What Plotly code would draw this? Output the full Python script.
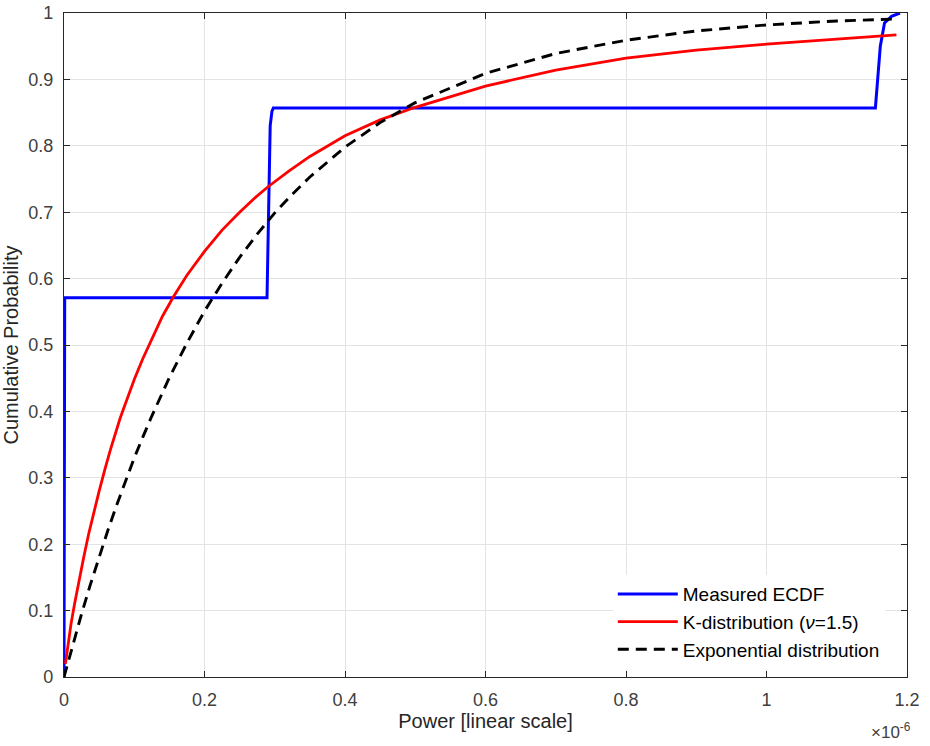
import plotly.graph_objects as go

# ---- data (x in units of 1e-6) ----
ecdf_x = [0.0, 0.0, 0.001, 0.289, 0.2915, 0.2935, 0.296, 0.298, 1.155, 1.162, 1.168, 1.178, 1.19]
ecdf_y = [0.0, 0.3, 0.571, 0.571, 0.70, 0.83, 0.852, 0.857, 0.857, 0.95, 0.985, 0.995, 1.0]

kdist_x = [0.002, 0.005, 0.01, 0.015, 0.02, 0.028, 0.035, 0.042, 0.05, 0.058, 0.066, 0.08,
           0.09, 0.1, 0.112, 0.125, 0.14, 0.156, 0.175, 0.2, 0.225, 0.25, 0.27, 0.29, 0.32,
           0.35, 0.375, 0.4, 0.45, 0.5, 0.6, 0.7, 0.8, 0.9, 1.0, 1.1, 1.185]
kdist_y = [0.02, 0.045, 0.08, 0.11, 0.138, 0.18, 0.215, 0.247, 0.28, 0.312, 0.342, 0.39,
           0.42, 0.448, 0.479, 0.51, 0.543, 0.573, 0.605, 0.641, 0.673, 0.70, 0.72, 0.738,
           0.762, 0.784, 0.80, 0.815, 0.839, 0.858, 0.890, 0.914, 0.932, 0.944, 0.953,
           0.961, 0.967]

exp_x = [0.0, 0.0068, 0.0125, 0.025, 0.0375, 0.05, 0.0625, 0.075, 0.0875, 0.1, 0.1125,
         0.125, 0.15, 0.175, 0.2, 0.225, 0.25, 0.275, 0.3, 0.325, 0.35, 0.4,
         0.45, 0.5, 0.6, 0.7, 0.8, 0.9, 1.0, 1.1, 1.185]
exp_y = [0.0, 0.027, 0.049, 0.095, 0.139, 0.181, 0.221, 0.259, 0.295, 0.33, 0.362,
         0.393, 0.451, 0.503, 0.551, 0.593, 0.632, 0.667, 0.699, 0.727, 0.753, 0.798,
         0.835, 0.865, 0.909, 0.939, 0.959, 0.973, 0.982, 0.988, 0.991]

x_ticks = [0, 0.2, 0.4, 0.6, 0.8, 1.0, 1.2]
x_tick_labels = ["0", "0.2", "0.4", "0.6", "0.8", "1", "1.2"]
y_ticks = [0, 0.1, 0.2, 0.3, 0.4, 0.5, 0.6, 0.7, 0.8, 0.9, 1.0]
y_tick_labels = ["0", "0.1", "0.2", "0.3", "0.4", "0.5", "0.6", "0.7", "0.8", "0.9", "1"]

FONT = "Liberation Sans, Arial, sans-serif"
AX = "#262626"

fig = go.Figure()
fig.add_trace(go.Scatter(x=ecdf_x, y=ecdf_y, mode="lines", name="Measured ECDF",
                         line=dict(color="#0000ff", width=3)))
fig.add_trace(go.Scatter(x=kdist_x, y=kdist_y, mode="lines",
                         name="K-distribution (<i>ν</i>=1.5)",
                         line=dict(color="#ff0000", width=2.8)))
fig.add_trace(go.Scatter(x=exp_x, y=exp_y, mode="lines", name="Exponential distribution",
                         line=dict(color="#000000", width=2.9, dash="11px,7px")))

fig.update_layout(
    width=930, height=746,
    margin=dict(l=64, r=23, t=13, b=69),
    paper_bgcolor="white", plot_bgcolor="white",
    font=dict(family=FONT, color=AX),
    showlegend=True,
    legend=dict(x=0.651, y=0.012, xanchor="left", yanchor="bottom",
                bgcolor="rgba(255,255,255,1)", borderwidth=0,
                font=dict(size=19, color="#000000", family=FONT),
                tracegroupgap=0, itemwidth=60),
    xaxis=dict(range=[0, 1.2], tickvals=x_ticks, ticktext=x_tick_labels,
               showgrid=True, gridcolor="#e3e3e3", gridwidth=1, automargin=False,
               zeroline=False, showline=True, linecolor=AX, linewidth=1.2,
               mirror="ticks", ticks="inside", ticklen=6, tickcolor=AX,
               tickfont=dict(size=18, color="#404040"), ticklabelstandoff=6,
               title=dict(text="Power [linear scale]", font=dict(size=20, color="#262626"),
                          standoff=5)),
    yaxis=dict(range=[0, 1], tickvals=y_ticks, ticktext=y_tick_labels,
               showgrid=True, gridcolor="#e3e3e3", gridwidth=1, automargin=False,
               zeroline=False, showline=True, linecolor=AX, linewidth=1.2,
               mirror="ticks", ticks="inside", ticklen=6, tickcolor=AX,
               tickfont=dict(size=18, color="#404040"), ticklabelstandoff=6,
               title=dict(text="Cumulative Probability", font=dict(size=20, color="#262626"),
                          standoff=6)),
)

fig.add_annotation(x=1.0, y=0, xref="paper", yref="paper", xanchor="right", yanchor="top",
                   yshift=-41, xshift=6, showarrow=False,
                   text="×10<sup>-6</sup>", font=dict(size=17, color="#404040", family=FONT))

fig.write_html("out.html")
